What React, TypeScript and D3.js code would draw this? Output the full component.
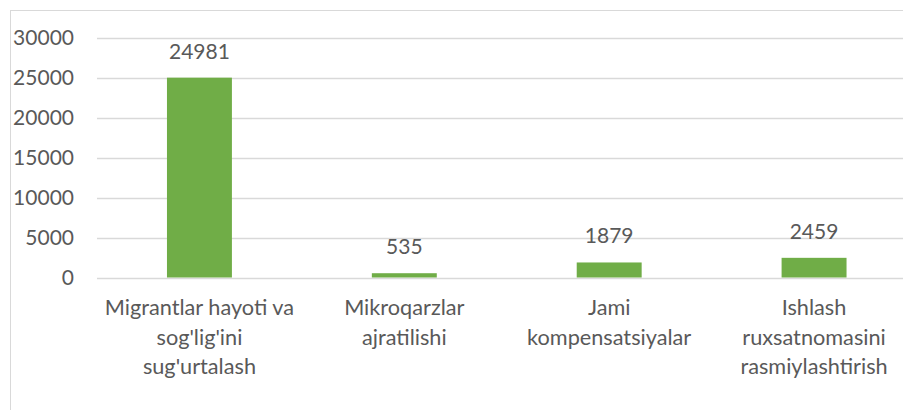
import React from "react";
import * as d3 from "d3";

const categories: string[] = [
  "Migrantlar hayoti va sog'lig'ini sug'urtalash",
  "Mikroqarzlar ajratilishi",
  "Jami kompensatsiyalar",
  "Ishlash ruxsatnomasini rasmiylashtirish",
];
const categoryLines: string[][] = [
  ["Migrantlar hayoti va", "sog'lig'ini", "sug'urtalash"],
  ["Mikroqarzlar", "ajratilishi"],
  ["Jami", "kompensatsiyalar"],
  ["Ishlash", "ruxsatnomasini", "rasmiylashtirish"],
];
const values: number[] = [24981, 535, 1879, 2459];
const yTicks: number[] = [0, 5000, 10000, 15000, 20000, 25000, 30000];

const W = 903;
const H = 410;
const FONT = "Lato, 'Open Sans', sans-serif";
const TEXT = "#595959";
const GRID = "#D9D9D9";
const BAR = "#70AD47";

export default function App() {
  const x = d3
    .scaleBand<string>()
    .domain(categories)
    .range([97, 916.5])
    .paddingInner(0.683)
    .paddingOuter(0.3415);
  const y = d3.scaleLinear().domain([0, 30000]).range([277.5, 37.5]);

  return (
    <svg
      width={W}
      height={H}
      style={{ position: "absolute", left: 0, top: 0, background: "#fff" }}
      fontFamily={FONT}
    >
      <rect x={0} y={0} width={W} height={H} fill="#fff" />
      <rect x={10.5} y={10.5} width={1000} height={1000} fill="none" stroke={GRID} strokeWidth={1} />
      {yTicks.map((t) => (
        <g key={t}>
          <line x1={97} x2={916.5} y1={Math.round(y(t)) + 0.5} y2={Math.round(y(t)) + 0.5} stroke={GRID} strokeWidth={1.3} />
          <text x={74} y={y(t)} dy="0.35em" textAnchor="end" fontSize={21} fill={TEXT}>
            {t}
          </text>
        </g>
      ))}
      {categories.map((c, i) => {
        const bx = x(c) as number;
        const bw = x.bandwidth();
        const cx = bx + bw / 2;
        return (
          <g key={c}>
            <rect x={bx} y={y(values[i])} width={bw} height={y(0) - y(values[i])} fill={BAR} />
            <text x={cx} y={y(values[i]) - 19} textAnchor="middle" fontSize={21} fill={TEXT}>
              {values[i]}
            </text>
            {categoryLines[i].map((ln, j) => (
              <text key={j} x={cx} y={315 + j * 29.5} textAnchor="middle" fontSize={21.7} fill={TEXT}>
                {ln}
              </text>
            ))}
          </g>
        );
      })}
    </svg>
  );
}
